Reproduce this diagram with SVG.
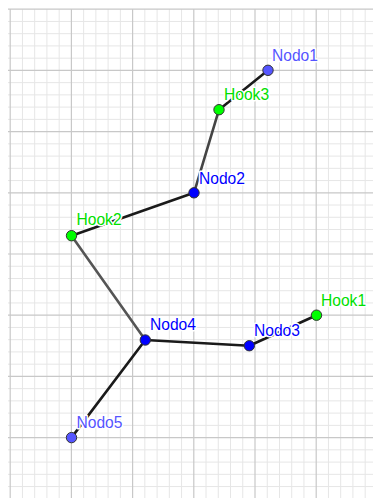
<svg xmlns="http://www.w3.org/2000/svg" width="373" height="498" viewBox="0 0 373 498">
<style>
.minor{stroke:#e6e6e6;stroke-width:1;fill:none}
.major{stroke:#c8c8c8;stroke-width:1.2;fill:none}
.edge{stroke:#1a1a1a;stroke-width:2.6;stroke-linecap:round;fill:none}
.edge.g{stroke:#444}
.edge.g2{stroke:#555}
.pt{stroke:#333;stroke-width:1}
.lbl{font-family:"Liberation Sans",Arial,sans-serif;font-size:15.6px;stroke:#fff;stroke-width:3;stroke-linejoin:round;paint-order:stroke}
.nb{fill:#0000ff}
.nl{fill:#5555ff}
.hk{fill:#00ff00}
.hl{fill:#00e000}
</style>
<rect width="373" height="498" fill="#fff"/>
<g id="grid">
<path class="minor" d="M22.44 9.2V498M34.68 9.2V498M46.92 9.2V498M59.16 9.2V498M83.64 9.2V498M95.88 9.2V498M108.12 9.2V498M120.36 9.2V498M144.84 9.2V498M157.08 9.2V498M169.32 9.2V498M181.56 9.2V498M206.04 9.2V498M218.28 9.2V498M230.52 9.2V498M242.76 9.2V498M267.24 9.2V498M279.48 9.2V498M291.72 9.2V498M303.96 9.2V498M328.44 9.2V498M340.68 9.2V498M352.92 9.2V498M365.16 9.2V498
M8 21.44H373M8 33.68H373M8 45.92H373M8 58.16H373M8 82.64H373M8 94.88H373M8 107.12H373M8 119.36H373M8 143.84H373M8 156.08H373M8 168.32H373M8 180.56H373M8 205.04H373M8 217.28H373M8 229.52H373M8 241.76H373M8 266.24H373M8 278.48H373M8 290.72H373M8 302.96H373M8 327.44H373M8 339.68H373M8 351.92H373M8 364.16H373M8 388.64H373M8 400.88H373M8 413.12H373M8 425.36H373M8 449.84H373M8 462.08H373M8 474.32H373M8 486.56H373"/>
<path class="major" d="M10.2 9.2V498M71.4 9.2V498M132.6 9.2V498M193.8 9.2V498M255 9.2V498M316.2 9.2V498
M8 9.2H373M8 70.4H373M8 131.6H373M8 192.8H373M8 254H373M8 315.2H373M8 376.4H373M8 437.6H373"/>
</g>
<g id="connectors">
<line class="edge" x1="268" y1="70.3" x2="219" y2="109.7"/>
<line class="edge g" x1="219" y1="109.7" x2="194" y2="192.8"/>
<line class="edge" x1="194" y1="192.8" x2="71.5" y2="235.7"/>
<line class="edge g2" x1="71.5" y1="235.7" x2="145.3" y2="340"/>
<line class="edge" x1="145.3" y1="340" x2="249.3" y2="345.7"/>
<line class="edge" x1="249.3" y1="345.7" x2="316.5" y2="315.2"/>
<line class="edge" x1="145.3" y1="340" x2="71.5" y2="437.6"/>
</g>
<g id="Nodo1"><circle class="pt nl" cx="268" cy="70.3" r="5.2"/><text class="lbl nl" x="272" y="61">Nodo1</text></g>
<g id="Hook3"><circle class="pt hk" cx="219" cy="109.7" r="5.2"/><text class="lbl hl" x="224" y="100">Hook3</text></g>
<g id="Nodo2"><circle class="pt nb" cx="194" cy="192.8" r="5.2"/><text class="lbl nb" x="199" y="183.5">Nodo2</text></g>
<g id="Hook2"><circle class="pt hk" cx="71.5" cy="235.7" r="5.2"/><text class="lbl hl" x="76.5" y="225">Hook2</text></g>
<g id="Nodo4"><circle class="pt nb" cx="145.3" cy="340" r="5.2"/><text class="lbl nb" x="150" y="329.5">Nodo4</text></g>
<g id="Nodo3"><circle class="pt nb" cx="249.3" cy="345.7" r="5.2"/><text class="lbl nb" x="254" y="336">Nodo3</text></g>
<g id="Hook1"><circle class="pt hk" cx="316.5" cy="315.2" r="5.2"/><text class="lbl hl" x="321" y="305.5">Hook1</text></g>
<g id="Nodo5"><circle class="pt nl" cx="71.5" cy="437.6" r="5.2"/><text class="lbl nl" x="76.5" y="427.5">Nodo5</text></g>
</svg>
